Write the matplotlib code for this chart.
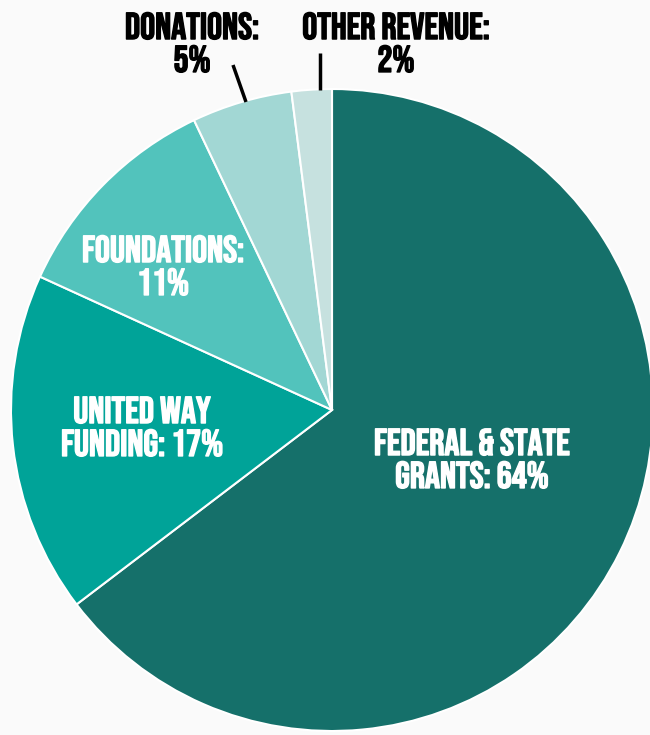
import matplotlib
matplotlib.use("Agg")
import matplotlib.pyplot as plt
import matplotlib.patheffects as pe

# Revenue breakdown (percent)
labels = ["FEDERAL & STATE\nGRANTS: 64%", "UNITED WAY\nFUNDING: 17%",
          "FOUNDATIONS:\n11%", "DONATIONS:\n5%", "OTHER REVENUE:\n2%"]
values = [64, 17, 11, 5, 2]
colors = ["#15706A", "#00A398", "#52C3BC", "#A2D7D4", "#C6E1DF"]

BG = "#FAFAFA"
FONT = ["Bebas Neue", "Roboto Condensed", "DejaVu Sans"]

fig = plt.figure(figsize=(6.5, 7.35), dpi=100)
fig.patch.set_facecolor(BG)
ax = fig.add_axes([0, 0, 1, 1])
ax.set_facecolor(BG)

ax.pie(values, colors=colors, startangle=90, counterclock=False,
       center=(332, 325), radius=321,
       wedgeprops=dict(edgecolor="white", linewidth=1.5))

# pie() resets the limits, so pin them to pixel coords afterwards
ax.set_xlim(0, 650)
ax.set_ylim(0, 735)
ax.set_aspect("equal")
ax.axis("off")


def label(x, y, s, color):
    # slight stroke in the same colour to get the heavy poster look
    ax.text(x, y, s, ha="center", va="center", color=color,
            fontsize=27, family=FONT, linespacing=1.22,
            path_effects=[pe.withStroke(linewidth=1.0, foreground=color)])


# labels inside the wedges
label(472, 277, labels[0], "white")
label(142, 309, labels[1], "white")
label(163, 470, labels[2], "white")

# labels above the pie with leader lines
label(192, 693, labels[3], "black")
label(396, 693, labels[4], "black")
ax.plot([233, 246], [670, 633], color="black", lw=2.5, solid_capstyle="butt")
ax.plot([320, 320], [682, 645], color="black", lw=2.5, solid_capstyle="butt")

fig.savefig("out.png", dpi=100, facecolor=fig.get_facecolor())
